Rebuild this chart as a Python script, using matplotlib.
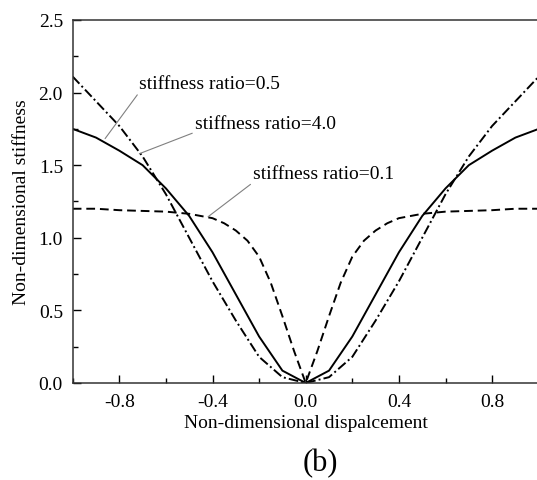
import matplotlib
matplotlib.use("Agg")
import matplotlib.pyplot as plt
from matplotlib.ticker import MultipleLocator

plt.rcParams['font.family'] = ['Liberation Serif', 'DejaVu Serif']
plt.rcParams['mathtext.fontset'] = 'stix'

# displacement points
x_coarse = [-1.0, -0.9, -0.8, -0.7, -0.6, -0.5, -0.4, -0.3, -0.2, -0.1, 0.0,
            0.1, 0.2, 0.3, 0.4, 0.5, 0.6, 0.7, 0.8, 0.9, 1.0]
x_fine = [-1.0, -0.9, -0.8, -0.7, -0.6, -0.5, -0.4, -0.35, -0.3, -0.25, -0.2,
          -0.15, -0.1, -0.05, 0.0, 0.05, 0.1, 0.15, 0.2, 0.25, 0.3, 0.35,
          0.4, 0.5, 0.6, 0.7, 0.8, 0.9, 1.0]

# stiffness ratio = 0.5 (solid)
k_05 = [1.75, 1.69, 1.60, 1.50, 1.34, 1.15, 0.90, 0.61, 0.32, 0.085, 0.0,
        0.085, 0.32, 0.61, 0.90, 1.15, 1.34, 1.50, 1.60, 1.69, 1.75]
# stiffness ratio = 4.0 (dash-dot)
k_40 = [2.11, 1.94, 1.77, 1.56, 1.30, 1.00, 0.70, 0.43, 0.18, 0.04, 0.0,
        0.04, 0.18, 0.43, 0.70, 1.00, 1.30, 1.56, 1.77, 1.94, 2.11]
# stiffness ratio = 0.1 (dashed)
k_01 = [1.20, 1.20, 1.19, 1.185, 1.18, 1.165, 1.135, 1.10, 1.05, 0.98, 0.87,
        0.69, 0.46, 0.22, 0.0, 0.22, 0.46, 0.69, 0.87, 0.98, 1.05, 1.10,
        1.135, 1.165, 1.18, 1.185, 1.19, 1.20, 1.20]

fig = plt.figure(figsize=(5.37, 4.81), dpi=100)
ax = fig.add_axes([0.1354, 0.2017, 0.8678, 0.7547])

lw = 1.4
ax.plot(x_coarse, k_05, color='black', lw=lw, linestyle='-')
ax.plot(x_coarse, k_40, color='black', lw=lw, linestyle=(0, (5, 1.6, 1, 1.6)))
ax.plot(x_fine, k_01, color='black', lw=lw, linestyle=(0, (4.5, 2.5)))

fs = 14
arrow = dict(arrowstyle='-', color='gray', lw=0.8, shrinkA=0, shrinkB=0, relpos=(0, 0))
ax.annotate('stiffness ratio=0.5', xy=(-0.861, 1.683), xytext=(-0.714, 2.062),
            ha='left', va='center', fontsize=fs, arrowprops=arrow)
ax.annotate('stiffness ratio=4.0', xy=(-0.714, 1.579), xytext=(-0.475, 1.786),
            ha='left', va='center', fontsize=fs, arrowprops=arrow)
ax.annotate('stiffness ratio=0.1', xy=(-0.419, 1.145), xytext=(-0.225, 1.441),
            ha='left', va='center', fontsize=fs, arrowprops=arrow)

ax.set_xlim(-1.0, 1.0)
ax.set_ylim(0.0, 2.5)
ax.xaxis.set_major_locator(MultipleLocator(0.4))
ax.xaxis.set_minor_locator(MultipleLocator(0.2))
ax.yaxis.set_major_locator(MultipleLocator(0.5))
ax.yaxis.set_minor_locator(MultipleLocator(0.25))
ax.set_xticks([-0.8, -0.4, 0.0, 0.4, 0.8])
ax.set_xticklabels(['-0.8', '-0.4', '0.0', '0.4', '0.8'])
ax.set_yticks([0.0, 0.5, 1.0, 1.5, 2.0, 2.5])
ax.set_yticklabels(['0.0', '0.5', '1.0', '1.5', '2.0', '2.5'])
ax.tick_params(which='major', direction='in', length=6, width=1.0, labelsize=fs, pad=7)
ax.tick_params(which='minor', direction='in', length=3.5, width=1.0)
ax.tick_params(top=False, right=False, which='both')
for s in ax.spines.values():
    s.set_linewidth(1.1)
    s.set_color('#333333')

ax.set_xlabel('Non-dimensional dispalcement', fontsize=fs, labelpad=3)
ax.set_ylabel('Non-dimensional stiffness', fontsize=fs, labelpad=6)

fig.text(0.596, 0.037, '(b)', fontsize=22, ha='center', va='center')

fig.savefig('out.png', dpi=100)
